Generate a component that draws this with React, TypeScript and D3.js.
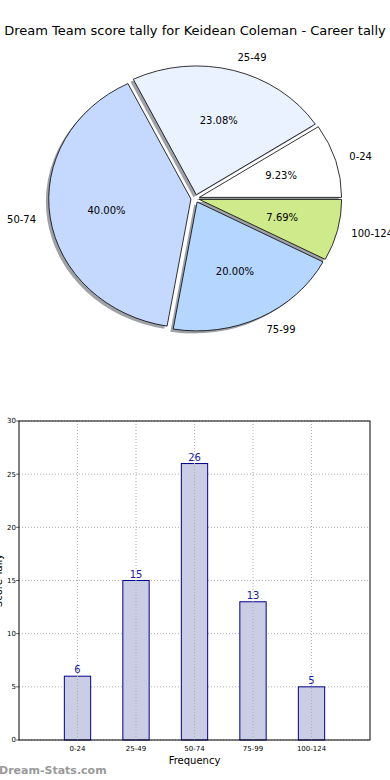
import * as d3 from 'd3'

const title = 'Dream Team score tally for Keidean Coleman - Career tally'
const ranges = ['0-24', '25-49', '50-74', '75-99', '100-124']
const counts = [6, 15, 26, 13, 5]
const sliceColors = ['#ffffff', '#eaf1ff', '#c5d9ff', '#b5d6ff', '#cfea8b']
const yTicks = [0, 5, 10, 15, 20, 25, 30]

const W = 390
const H = 780
const font = 'DejaVu Sans, sans-serif'

// pie geometry (matplotlib style, axes not equal so it's an ellipse)
const cx = 195.2
const cy = 198.5
const rx = 142.3
const ry = 128.9
const explode = 0.03

export default function App() {
  const total = d3.sum(counts)
  const pie = d3.pie<number>().sort(null).startAngle(Math.PI / 2).endAngle(Math.PI / 2 - 2 * Math.PI)
  const arcs = pie(counts)
  const arc = d3.arc<d3.PieArcDatum<number>>().innerRadius(0).outerRadius(1)

  const slices = arcs.map((a, i) => {
    const mid = (a.startAngle + a.endAngle) / 2
    const sx = Math.sin(mid)
    const sy = -Math.cos(mid)
    return {
      a, i, sx, sy,
      ox: cx + explode * rx * sx,
      oy: cy + explode * ry * sy,
    }
  })

  // bar chart
  const x = d3.scaleLinear().domain([-1, 5]).range([19, 370])
  const y = d3.scaleLinear().domain([0, 30]).range([740, 421])
  const barW = x(0.45) - x(0)

  return (
    <div style={{ position: 'absolute', left: 0, top: 0 }}>
      <svg width={W} height={H} style={{ display: 'block', fontFamily: font }}>
        <rect width={W} height={H} fill="#fff" />
        <text x={195} y={35} textAnchor="middle" fontSize={13}>{title}</text>

        {/* shadows first */}
        {slices.map(s => (
          <path key={'sh' + s.i} d={arc(s.a) || ''}
            transform={`translate(${s.ox - 0.02 * rx},${s.oy + 0.02 * ry}) scale(${rx},${ry})`}
            fill="#9ea1a6" stroke="none" />
        ))}
        {slices.map(s => (
          <path key={'w' + s.i} d={arc(s.a) || ''}
            transform={`translate(${s.ox},${s.oy}) scale(${rx},${ry})`}
            fill={sliceColors[s.i]} stroke="#000" strokeWidth={0.8}
            vectorEffect="non-scaling-stroke" />
        ))}
        {slices.map(s => (
          <text key={'l' + s.i}
            x={cx + (explode + 1.1) * rx * s.sx}
            y={cy + (explode + 1.1) * ry * s.sy}
            dy="0.35em" fontSize={10}
            textAnchor={s.sx > 0 ? 'start' : 'end'}>{ranges[s.i]}</text>
        ))}
        {slices.map(s => (
          <text key={'p' + s.i}
            x={cx + (explode + 0.6) * rx * s.sx}
            y={cy + (explode + 0.6) * ry * s.sy}
            dy="0.35em" fontSize={10} textAnchor="middle">
            {(counts[s.i] / total * 100).toFixed(2) + '%'}
          </text>
        ))}

        {/* bar chart */}
        {yTicks.map(t => (
          <g key={'gy' + t}>
            <line x1={x(-1)} x2={x(5)} y1={y(t)} y2={y(t)} stroke="#b0b0b0" strokeDasharray="1,2" />
            <line x1={x(-1) - 3} x2={x(-1)} y1={y(t)} y2={y(t)} stroke="#000" strokeWidth={0.6} />
            <text x={16} y={y(t)} dy="0.35em" fontSize={7} textAnchor="end">{t}</text>
          </g>
        ))}
        {counts.map((c, i) => (
          <rect key={'b' + i} x={x(i) - barW / 2} y={y(c)} width={barW} height={y(0) - y(c)}
            fill="#cbcde4" stroke="#00008b" strokeWidth={1} />
        ))}
        {ranges.map((r, i) => (
          <g key={'gx' + i}>
            <line x1={x(i)} x2={x(i)} y1={y(0)} y2={y(30)} stroke="#b0b0b0" strokeDasharray="1,2" />
            <text x={x(i)} y={751} fontSize={7} textAnchor="middle">{r}</text>
          </g>
        ))}
        {counts.map((c, i) => (
          <text key={'v' + i} x={x(i)} y={y(c) - 3} fontSize={10} textAnchor="middle" fill="#1a1a9e">{c}</text>
        ))}
        <rect x={x(-1)} y={y(30)} width={x(5) - x(-1)} height={y(0) - y(30)} fill="none" stroke="#000" strokeWidth={1} />
        <text x={194.5} y={764} fontSize={10} textAnchor="middle">Frequency</text>
        <text transform={`translate(2,580.5) rotate(-90)`} fontSize={10} textAnchor="middle">Score Tally</text>
        <text x={-1} y={774} fontSize={11} fontWeight="bold" fill="#9a9a9a">Dream-Stats.com</text>
      </svg>
    </div>
  )
}
